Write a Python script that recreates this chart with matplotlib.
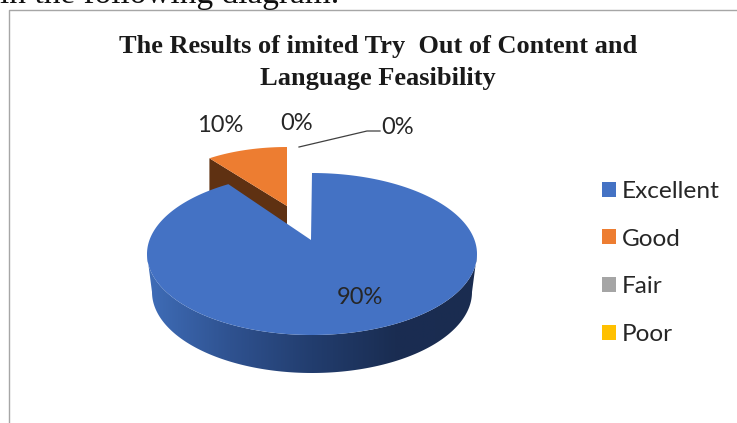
import numpy as np
import matplotlib
matplotlib.use("Agg")
import matplotlib.pyplot as plt
from matplotlib.colors import LinearSegmentedColormap
from matplotlib.patches import Patch, Polygon

categories = ["Excellent", "Good", "Fair", "Poor"]
percentages = [90, 10, 0, 0]
colors = ["#4472C4", "#ED7D31", "#A5A5A5", "#FFC000"]
title_lines = ["The Results of imited Try  Out of Content and", "Language Feasibility"]
caption = "in the following diagram."

W, H = 737, 423
fig = plt.figure(figsize=(W / 100, H / 100), dpi=100)
ax = fig.add_axes([0, 0, 1, 1])
ax.set_xlim(0, W)
ax.set_ylim(H, 0)
ax.axis("off")


def rim(center, radii, start, stop, n=160):
    """Points on a tilted pie rim; angles run clockwise from 12 o'clock."""
    t = np.radians(np.linspace(start, stop, n))
    return np.column_stack([center[0] + radii[0] * np.sin(t),
                            center[1] - radii[1] * np.cos(t)])


def rim_angle_seen_from(tip, center, radii, angle):
    """Rim angle hit by a ray leaving an off-centre tip at the given slice angle."""
    a = np.radians(angle)
    d = np.array([radii[0] * np.sin(a), -radii[1] * np.cos(a)])
    o = np.array([(tip[0] - center[0]) / radii[0], (tip[1] - center[1]) / radii[1]])
    u = d / np.array(radii)
    qa, qb, qc = u @ u, 2 * o @ u, o @ o - 1
    s = (-qb + np.sqrt(qb ** 2 - 4 * qa * qc)) / (2 * qa)
    p = o + s * u
    return np.degrees(np.arctan2(p[0], -p[1])) % 360


# Cumulative slice angles
angles = np.concatenate([[0], np.cumsum(percentages) * 3.6])
main_center, main_radii = (312, 254), (165, 81)
main_tip = (311, 240)
depth = 38
base_center, base_radii = (312, 254 + depth), (160, 81)

# Exploded slice: side wall first, then the top face
good_center, good_radii = (287, 206), (132, 59)
good_arc = rim(good_center, good_radii, angles[1], angles[2], 60)
good_left = good_arc[0]
ax.add_patch(Polygon([good_left, good_center,
                      (good_center[0], good_center[1] + depth),
                      (good_left[0], good_left[1] + depth)],
                     closed=True, fc="#5F3112", ec="none", zorder=2))
ax.add_patch(Polygon(np.vstack([good_arc, good_center]), closed=True,
                     fc=colors[1], ec="none", zorder=3))

# Main slice: shaded cylinder wall, then the top face
wall = np.vstack([rim(main_center, main_radii, 90, 270),
                  rim(base_center, base_radii, 270, 90)])
wall_patch = Polygon(wall, closed=True, fc="none", ec="none", zorder=4)
ax.add_patch(wall_patch)
shade = LinearSegmentedColormap.from_list(
    "wall", ["#3F6DB8", "#2F5290", "#223D6E", "#1A2D52", "#1A2C50"])
img = ax.imshow(np.linspace(0, 1, 256)[None, :], cmap=shade, aspect="auto",
                extent=(147, 477, 373, 254), zorder=4)
img.set_clip_path(wall_patch)
ax.set_xlim(0, W)
ax.set_ylim(H, 0)

main_end = rim_angle_seen_from(main_tip, main_center, main_radii, angles[1])
main_arc = rim(main_center, main_radii, angles[0], main_end, 300)
ax.add_patch(Polygon(np.vstack([main_arc, main_tip]), closed=True,
                     fc=colors[0], ec="none", zorder=5))

# Chart frame and the line of body text running above it
ax.plot([9.5, 9.5, W], [H, 10, 10], color="#A6A6A6", lw=1, zorder=1)
ax.text(0, 2.5, caption, family="Liberation Serif", fontsize=24,
        color="#111111", ha="left", va="baseline", zorder=6)

# Title
title_y = [53, 85]
for line, y in zip(title_lines, title_y):
    ax.text(378, y, line, family="Liberation Serif", weight="bold", fontsize=19,
            color="#1A1A1A", ha="center", va="baseline", zorder=6)

# Slice labels and the leader line for the last one
label_font = dict(family="Lato", fontsize=17, color="#262626", ha="center", va="center", zorder=6)
label_xy = [(360, 298), (220, 126), (297, 124), (398, 127)]
for value, (x, y) in zip(percentages, label_xy):
    ax.text(x, y, f"{value}%", **label_font)
ax.plot([299, 367, 380], [147, 131, 131], color="#404040", lw=0.9, zorder=6)

# Legend
handles = [Patch(fc=c, ec="none") for c in colors]
ax.legend(handles, categories, loc="center left", bbox_to_anchor=(602 / W, 1 - 263 / H),
          frameon=False, prop=dict(family="Lato", size=17.6), labelcolor="#262626",
          handlelength=0.57, handleheight=0.57, handletextpad=0.25, labelspacing=1.1,
          borderpad=0, borderaxespad=0)

fig.savefig("out.png", dpi=100)
